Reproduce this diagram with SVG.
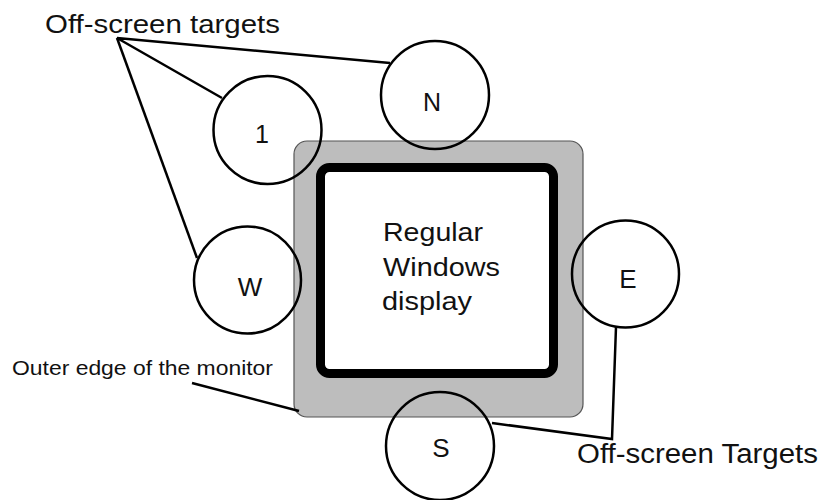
<svg xmlns="http://www.w3.org/2000/svg" width="820" height="500" viewBox="0 0 820 500">
  <style>
    .lbl { font-family: "Liberation Sans", Arial, sans-serif; fill: #111; }
    .tgt { fill: none; stroke: #000; stroke-width: 2.5; }
    .lead { fill: none; stroke: #000; stroke-width: 2.5; stroke-linejoin: miter; }
  </style>
  <rect width="820" height="500" fill="#fff"/>
  <g id="monitor">
    <rect x="294" y="141" width="289" height="276" rx="13" fill="#bdbdbd" stroke="#555" stroke-width="1.2"/>
  </g>
  <g id="display">
    <rect x="320.5" y="167.5" width="233" height="206" rx="9" fill="#fff" stroke="#000" stroke-width="9"/>
    <text class="lbl" font-size="25" x="383" y="241" textLength="100" lengthAdjust="spacingAndGlyphs">Regular</text>
    <text class="lbl" font-size="25" x="383" y="276" textLength="117" lengthAdjust="spacingAndGlyphs">Windows</text>
    <text class="lbl" font-size="25" x="382" y="310" textLength="90" lengthAdjust="spacingAndGlyphs">display</text>
  </g>
  <g id="target-1">
    <circle class="tgt" cx="267.5" cy="130" r="54"/>
    <text class="lbl" font-size="25" x="262" y="143" text-anchor="middle">1</text>
  </g>
  <g id="target-N">
    <circle class="tgt" cx="435" cy="95" r="54"/>
    <text class="lbl" font-size="25" x="432" y="111" text-anchor="middle">N</text>
  </g>
  <g id="target-W">
    <circle class="tgt" cx="247.5" cy="280" r="53.5"/>
    <text class="lbl" font-size="26" x="250" y="296" text-anchor="middle">W</text>
  </g>
  <g id="target-E">
    <circle class="tgt" cx="625.5" cy="274" r="53.5"/>
    <text class="lbl" font-size="26" x="628" y="288" text-anchor="middle">E</text>
  </g>
  <g id="target-S">
    <circle class="tgt" cx="440" cy="446" r="54"/>
    <text class="lbl" font-size="26" x="441" y="457" text-anchor="middle">S</text>
  </g>
  <g id="labels">
    <text class="lbl" font-size="26" x="45" y="33" textLength="235" lengthAdjust="spacingAndGlyphs">Off-screen targets</text>
    <text class="lbl" font-size="20" x="12" y="375" textLength="261" lengthAdjust="spacingAndGlyphs">Outer edge of the monitor</text>
    <text class="lbl" font-size="27" x="577" y="463" textLength="241" lengthAdjust="spacingAndGlyphs">Off-screen Targets</text>
  </g>
  <g id="connectors">
    <polyline class="lead" points="390,63 117,38 222,98"/>
    <line class="lead" x1="117" y1="38" x2="197" y2="258"/>
    <line class="lead" x1="192" y1="383" x2="299" y2="411"/>
    <polyline class="lead" points="616,327 612,439 492,423"/>
  </g>
</svg>
